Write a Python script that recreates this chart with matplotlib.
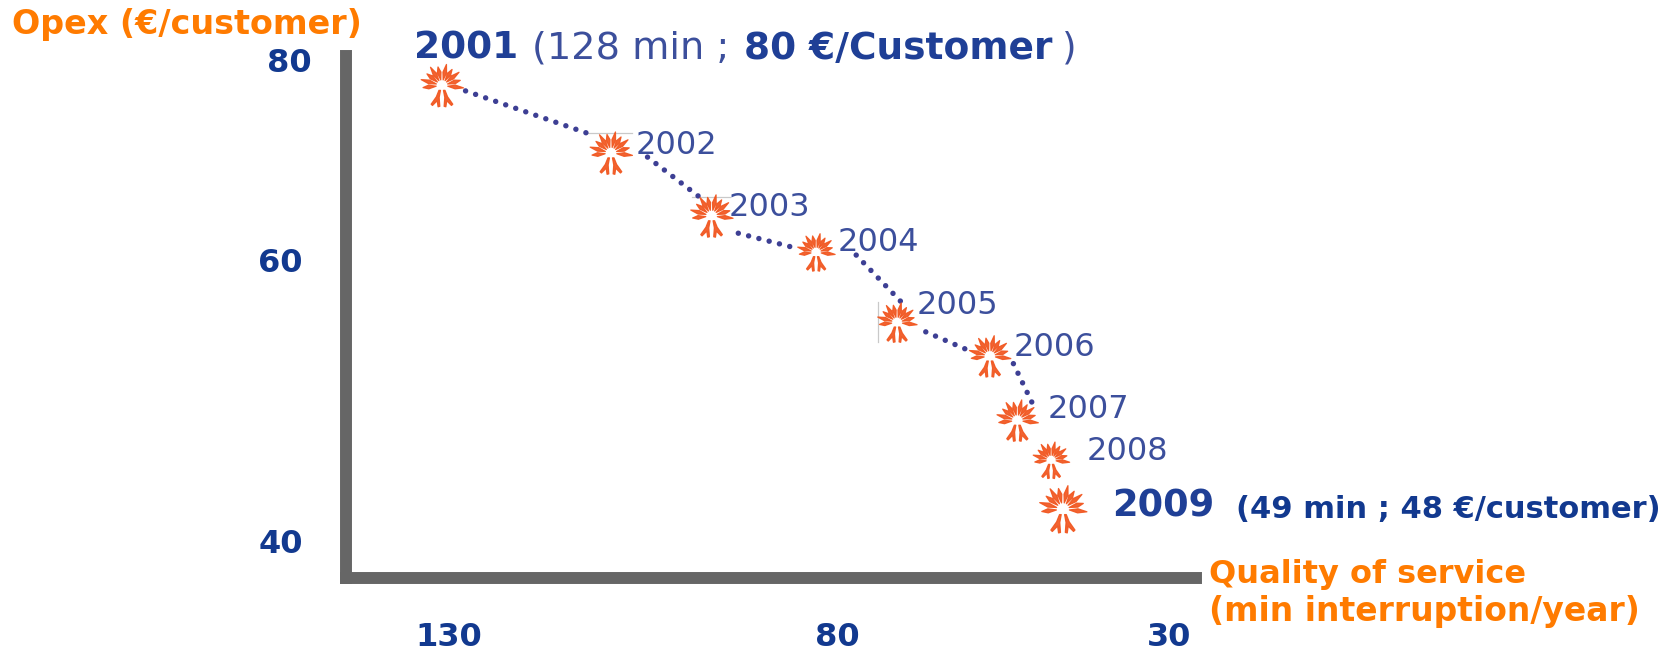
import numpy as np
import matplotlib
matplotlib.use("Agg")
import matplotlib.pyplot as plt
from matplotlib.path import Path

years = ["2001", "2002", "2003", "2004", "2005", "2006", "2007", "2008", "2009"]
interruption_min = [128, 106.5, 93.7, 80.4, 70.1, 58.3, 54.8, 50.5, 49]
opex_eur = [80, 74.9, 70.15, 67.4, 62.1, 59.55, 54.7, 51.7, 48]

link_x = [125.0, 109.3, np.nan, 101.85, 95.05, np.nan, 90.3, 82.8, np.nan,
          75.3, 69.15, np.nan, 66.45, 61.0, np.nan, 55.3, 52.8]
link_y = [79.6, 76.36, np.nan, 74.6, 71.5, np.nan, 68.85, 67.7, np.nan,
          67.2, 63.4, np.nan, 61.4, 60.0, np.nan, 59.0, 55.9]

x_tick_values = [127.2, 77.7, 35.5]
x_tick_labels = ["130", "80", "30"]
y_tick_values = [81.9, 66.8, 45.6]
y_tick_labels = ["80", "60", "40"]

W, H = 1678, 651
NAVY, BLUE, ORANGE, BAR, FLOWER = "#12398F", "#3C4F9C", "#FF7B00", "#666666", "#F1561F"
BOLD_BLUE, DOT, FAINT = "#1F3F96", "#3D3F94", "#C9C9C9"

def px_x(p): return 184.23 - p / 7.86
def px_y(p): return 86.465 - p / 13.24

def flower_path():
    verts, codes = [], []
    def poly(pts):
        verts.extend(pts + [pts[0]])
        codes.extend([Path.MOVETO] + [Path.LINETO] * (len(pts) - 1) + [Path.CLOSEPOLY])
    angles = [-6, 16, 38, 58, 78, 102, 122, 142, 164, 186]
    for i, deg in enumerate(angles):
        a = np.radians(deg)
        d = np.array([np.cos(a), np.sin(a)])
        n = np.array([-d[1], d[0]])
        tip = 1.0 if i % 2 == 0 else 0.88
        poly([tuple(d * .27), tuple(d * .62 + n * .085), tuple(d * tip), tuple(d * .62 - n * .085)])
    for s in (-1, 1):
        poly([(s * .07, -.22), (s * .14, -.22), (s * .26, -.52), (s * .50, -.86), (s * .44, -.92),
              (s * .22, -.70), (s * .18, -.98), (s * .10, -.96), (s * .13, -.55)])
    return Path(verts, codes)

fig = plt.figure(figsize=(W / 100, H / 100), dpi=100, facecolor="white")
ax = fig.add_axes([346 / W, 1 - 578 / H, (1196 - 346) / W, (578 - 56) / H])
ax.set_xlim(px_x(346), px_x(1196))
ax.set_ylim(px_y(578), px_y(56))
for side in ("top", "right"):
    ax.spines[side].set_visible(False)
for side in ("left", "bottom"):
    ax.spines[side].set_linewidth(8.6)
    ax.spines[side].set_color(BAR)
    ax.spines[side].set_capstyle("projecting")

ax.plot(link_x, link_y, ls=(0, (0.01, 1.95)), lw=3.9, color=DOT, zorder=2,
        clip_on=False, dash_capstyle="round")

# faint grey leader ticks left over in the original artwork
for xs, ys in ((px_x(np.array([588, 632])), [px_y(133)] * 2),
               (px_x(np.array([692, 730])), [px_y(197)] * 2),
               ([px_x(878)] * 2, px_y(np.array([302, 342])))):
    ax.plot(xs, ys, color=FAINT, lw=0.9, zorder=1)

flower = flower_path()
flower_px = [21.5, 21.5, 21.5, 19, 20, 21, 21, 18.5, 24]
ax.scatter(interruption_min, opex_eur, marker=flower,
           s=[(2 * r * 0.72) ** 2 for r in flower_px],
           color=FLOWER, edgecolors=FLOWER, linewidths=0.9, alpha=0.92, zorder=3, clip_on=False)

def label(px, py, s, **kw):
    ax.text(px_x(px), px_y(py), s, ha="left", va="center", clip_on=False, **kw)

offs = {"2002": (636, 146), "2003": (729, 207), "2004": (838, 243), "2005": (917, 306),
        "2006": (1014, 348), "2007": (1048, 410), "2008": (1087, 451)}
for yr, (px, py) in offs.items():
    label(px, py, yr, color=BLUE, fontsize=23)

label(414, 49, "2001", color=BOLD_BLUE, fontsize=27, fontweight="bold")
label(532, 49, "(128 min ;", color=BLUE, fontsize=27.5)
label(744, 49, "80 €/Customer", color=BOLD_BLUE, fontsize=27, fontweight="bold")
label(1062, 49, ")", color=BLUE, fontsize=27)
label(1112, 506, "2009", color=BOLD_BLUE, fontsize=26.5, fontweight="bold")
label(1236, 510, "(49 min ; 48 €/customer)", color=NAVY, fontsize=22, fontweight="bold")

label(12, 25, "Opex (€/customer)", color=ORANGE, fontsize=24, fontweight="bold")
label(1209, 574, "Quality of service", color=ORANGE, fontsize=23, fontweight="bold")
label(1209, 612, "(min interruption/year)", color=ORANGE, fontsize=23.8, fontweight="bold")

ax.set_xticks(x_tick_values, x_tick_labels)
ax.set_yticks(y_tick_values, y_tick_labels)
ax.tick_params(axis="both", length=0, labelsize=23, labelcolor=NAVY)
for t in ax.get_xticklabels() + ax.get_yticklabels():
    t.set_fontweight("bold")
ax.tick_params(axis="x", pad=32)
ax.tick_params(axis="y", pad=31)
ax.yaxis.get_major_ticks()[0].set_pad(25)

fig.savefig("out.png", dpi=100, facecolor="white")
